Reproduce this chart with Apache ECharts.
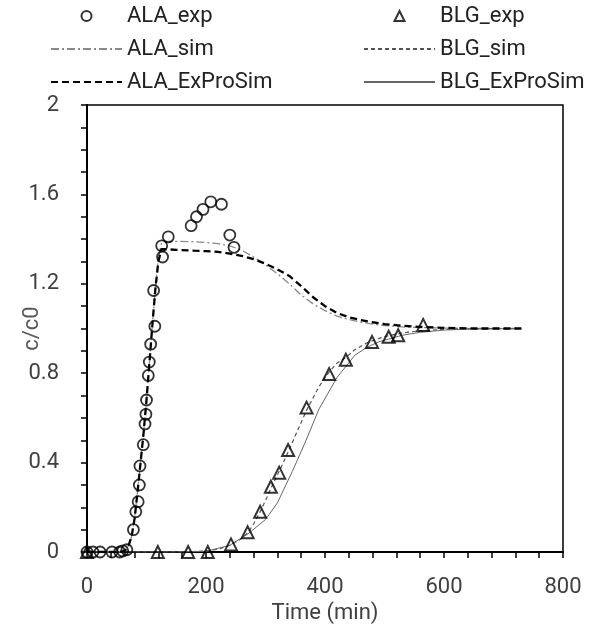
<!DOCTYPE html>
<html>
<head>
<meta charset="utf-8">
<script src="https://cdn.jsdelivr.net/npm/echarts@6/dist/echarts.min.js"></script>
<style>html,body{margin:0;padding:0;background:#fff}#c{width:600px;height:630px}</style>
</head>
<body>
<div id="c"></div>
<script>
// ---- data ----
const alaExpTime = [0,10,22,42,55,60,67,78,82,86,88,89,94.6,97.5,99,100,103,104.7,107,112,114,125.5,127,136.6,175,184,195,208,226,240,247];
const alaExpVal  = [0,0,0,0,0,0.005,0.01,0.1,0.18,0.225,0.3,0.385,0.48,0.573,0.616,0.68,0.79,0.85,0.93,1.17,1.01,1.37,1.32,1.41,1.46,1.5,1.533,1.567,1.556,1.418,1.363];

const blgExpTime = [0,119,170,203,242,270,291,309,323,338,369,407,435,479,507,523,565];
const blgExpVal  = [0,0,0,0,0.034,0.088,0.18,0.292,0.355,0.456,0.646,0.796,0.86,0.94,0.963,0.97,1.016];

const alaSimTime   = [0,50,60,65,70,75,80,85,90,95,100,105,110,115,120,125,130,150,180,200,220,240,260,280,300,320,340,360,380,400,420,440,460,480,500,530,560,600,650,730];
const alaSimVal    = [0,0,0.003,0.01,0.03,0.07,0.15,0.27,0.4,0.53,0.68,0.85,1.02,1.18,1.32,1.38,1.39,1.39,1.388,1.385,1.38,1.37,1.35,1.32,1.285,1.245,1.2,1.15,1.11,1.08,1.055,1.04,1.028,1.02,1.013,1.007,1.004,1.002,1.0,1.0];
const alaExProVal  = [0,0,0.003,0.01,0.03,0.07,0.15,0.27,0.4,0.53,0.68,0.85,1.02,1.18,1.3,1.355,1.355,1.352,1.348,1.346,1.343,1.335,1.325,1.31,1.29,1.265,1.235,1.19,1.14,1.1,1.07,1.05,1.038,1.028,1.02,1.012,1.007,1.003,1.0,1.0];

const blgSimTime = [0,150,180,200,220,240,260,270,280,290,300,310,320,330,340,350,360,370,380,390,400,410,420,435,450,470,490,510,530,560,600,650,730];
const blgSimVal  = [0,0,0.002,0.005,0.012,0.03,0.06,0.085,0.125,0.175,0.23,0.29,0.345,0.4,0.46,0.52,0.58,0.64,0.69,0.74,0.78,0.815,0.845,0.87,0.905,0.935,0.955,0.97,0.98,0.99,0.996,0.999,1.0];

const blgExProTime = [0,150,200,240,270,300,320,345,365,390,420,450,470,490,510,530,560,600,650,730];
const blgExProVal  = [0,0,0.003,0.03,0.08,0.145,0.22,0.36,0.48,0.64,0.78,0.88,0.915,0.94,0.955,0.97,0.983,0.993,0.998,1.0];

const xTicks = [0,200,400,600,800];
const yTicks = [0,0.4,0.8,1.2,1.6,2];

const pair = (t, v) => t.map((x, i) => [x, v[i]]);
const FONT = 'Roboto';
const TXT = '#404040';
const FS = 22;

const chart = echarts.init(document.getElementById('c'), null, {renderer: 'canvas'});
const legendCommon = {
  orient: 'vertical',
  padding: 0,
  itemWidth: 71,
  itemHeight: 10,
  itemGap: 11,
  symbolKeepAspect: true,
  textStyle: {fontFamily: FONT, fontSize: FS, color: '#222'},
  selectedMode: false
};
const hideDot = {itemStyle: {opacity: 0}};
chart.setOption({
  animation: false,
  backgroundColor: '#fff',
  legend: [
    Object.assign({left: 50, top: 5, data: [
      {name: 'ALA_exp'},
      Object.assign({name: 'ALA_sim'}, hideDot),
      Object.assign({name: 'ALA_ExProSim'}, hideDot)
    ]}, legendCommon),
    Object.assign({left: 363, top: 5, data: [
      {name: 'BLG_exp', icon: 'path://M5,0L10,10L0,10Z'},
      Object.assign({name: 'BLG_sim'}, hideDot),
      Object.assign({name: 'BLG_ExProSim'}, hideDot)
    ]}, legendCommon)
  ],
  grid: {left: 87, right: 37, top: 105, bottom: 78, containLabel: false, outerBoundsMode: 'none',
         show: true, borderColor: '#000', borderWidth: 1.5, backgroundColor: 'transparent'},
  xAxis: {
    type: 'value', min: xTicks[0], max: xTicks[xTicks.length-1], interval: 200,
    name: 'Time (min)', nameLocation: 'middle', nameGap: 46,
    nameTextStyle: {fontFamily: FONT, fontSize: FS, color: TXT},
    axisLine: {onZero: false, lineStyle: {color: '#000', width: 2}},
    axisTick: {show: true, inside: false, length: 6, lineStyle: {color: '#000', width: 1.5}},
    minorTick: {show: true, splitNumber: 5, length: 6, lineStyle: {color: '#000', width: 1.5}},
    axisLabel: {fontFamily: FONT, fontSize: FS, color: TXT, margin: 24},
    splitLine: {show: false}
  },
  yAxis: {
    type: 'value', min: yTicks[0], max: yTicks[yTicks.length-1], interval: 0.4,
    name: 'c/c0', nameLocation: 'middle', nameGap: 44, nameMoveOverlap: false,
    nameTextStyle: {fontFamily: FONT, fontSize: FS, color: '#595959'},
    axisLine: {onZero: false, lineStyle: {color: '#000', width: 2}},
    axisTick: {show: true, inside: false, length: 6, lineStyle: {color: '#000', width: 1.5}},
    minorTick: {show: true, splitNumber: 4, length: 6, lineStyle: {color: '#000', width: 1.5}},
    axisLabel: {fontFamily: FONT, fontSize: FS, color: TXT, margin: 28,
      formatter: v => String(+v.toFixed(1))},
    splitLine: {show: false}
  },
  series: [
    {name: 'ALA_exp', type: 'scatter', data: pair(alaExpTime, alaExpVal), symbol: 'circle', symbolSize: 11, z: 5,
     itemStyle: {color: 'rgba(255,255,255,0)', borderColor: '#000', borderWidth: 1.8}},
    {name: 'ALA_sim', type: 'line', data: pair(alaSimTime, alaSimVal), showSymbol: false, symbol: 'none', z: 3,
     lineStyle: {color: '#8a8a8a', width: 1.3, type: [8,3,2,3]}},
    {name: 'ALA_ExProSim', type: 'line', data: pair(alaSimTime, alaExProVal), showSymbol: false, symbol: 'none', z: 4,
     lineStyle: {color: '#000', width: 2.3, type: [7,4]}},
    {name: 'BLG_exp', type: 'scatter', data: pair(blgExpTime, blgExpVal), symbol: 'triangle', symbolSize: 12, z: 5,
     itemStyle: {color: 'rgba(255,255,255,0)', borderColor: '#000', borderWidth: 2}},
    {name: 'BLG_sim', type: 'line', data: pair(blgSimTime, blgSimVal), showSymbol: false, symbol: 'none', z: 3,
     lineStyle: {color: '#555', width: 1.2, type: [4,3]}},
    {name: 'BLG_ExProSim', type: 'line', data: pair(blgExProTime, blgExProVal), showSymbol: false, symbol: 'none', z: 3,
     lineStyle: {color: '#666', width: 1, type: 'solid'}}
  ]
});
</script>
</body>
</html>
